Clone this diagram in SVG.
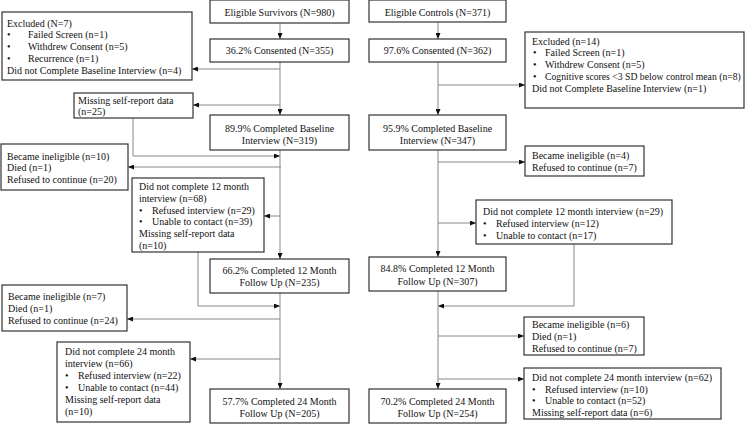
<svg xmlns="http://www.w3.org/2000/svg" width="754" height="424" viewBox="0 0 754 424">
<defs>
<marker id="ah" viewBox="0 0 6 5" refX="6" refY="2.5" markerWidth="6" markerHeight="5" markerUnits="userSpaceOnUse" orient="auto">
<path d="M0,0 L6,2.5 L0,5 Z" fill="#111"/>
</marker>
<style>
rect{fill:#fff;stroke:#333;stroke-width:1.2}
text{font-family:"Liberation Serif","Times New Roman",serif;font-size:10px;fill:#111}
.c{text-anchor:middle}
#connectors path{fill:none;stroke:#888;stroke-width:1}
.a{marker-end:url(#ah)}
</style>
</defs>
<rect x="0" y="0" width="754" height="424" style="fill:#fff;stroke:none"/>

<g id="connectors">
<path class="a" d="M280,23 V39"/>
<path class="a" d="M280,62 V115"/>
<path class="a" d="M280,69 H192"/>
<path class="a" d="M280,105 H193"/>
<path class="a" d="M133,118 V156 H280"/>
<path class="a" d="M280,150 V259"/>
<path class="a" d="M281,167 H128"/>
<path class="a" d="M280,216 H264"/>
<path class="a" d="M198,252 V306 H280"/>
<path class="a" d="M280,293 V389"/>
<path class="a" d="M280,319 H127"/>
<path class="a" d="M280,359 H190"/>

<path class="a" d="M438,22 V39"/>
<path class="a" d="M438,62 V115"/>
<path class="a" d="M438,85 H525"/>
<path class="a" d="M438,150 V257"/>
<path class="a" d="M438,162 H525"/>
<path class="a" d="M438,223 H476"/>
<path class="a" d="M574,244 V306 H438"/>
<path class="a" d="M438,291 V389"/>
<path class="a" d="M438,336 H524"/>
<path class="a" d="M438,379 H524"/>
</g>

<g id="eligible-survivors">
<rect x="210" y="0" width="139" height="23"/>
<text class="c" x="279.5" y="15.5">Eligible Survivors (N=980)</text>
</g>
<g id="survivors-consented">
<rect x="210" y="39" width="139" height="23"/>
<text class="c" x="279.5" y="54">36.2% Consented (N=355)</text>
</g>
<g id="survivors-excluded">
<rect x="2" y="12" width="190" height="68"/>
<text x="7" y="26.5">Excluded (N=7)</text>
<text x="7" y="38.25">•</text><text x="28" y="38.25">Failed Screen (n=1)</text>
<text x="7" y="50">•</text><text x="28" y="50">Withdrew Consent (n=5)</text>
<text x="7" y="61.75">•</text><text x="28" y="61.75">Recurrence (n=1)</text>
<text x="7" y="73.5">Did not Complete Baseline Interview (n=4)</text>
</g>
<g id="survivors-missing-baseline">
<rect x="74" y="93" width="119" height="25"/>
<text x="78" y="103.5">Missing self-report data</text>
<text x="78" y="115">(n=25)</text>
</g>
<g id="survivors-baseline">
<rect x="210" y="115" width="139" height="35"/>
<text class="c" x="279.5" y="131.5">89.9% Completed Baseline</text>
<text class="c" x="279.5" y="143.5">Interview (N=319)</text>
</g>
<g id="survivors-ineligible-12">
<rect x="1" y="144" width="127" height="46"/>
<text x="7" y="159.5">Became ineligible (n=10)</text>
<text x="7" y="171">Died (n=1)</text>
<text x="7" y="183">Refused to continue (n=20)</text>
</g>
<g id="survivors-not-complete-12">
<rect x="132" y="178" width="132" height="74"/>
<text x="139" y="190">Did not complete 12 month</text>
<text x="139" y="201.7">interview (n=68)</text>
<text x="139" y="213.5">•</text><text x="152" y="213.5">Refused interview (n=29)</text>
<text x="139" y="225">•</text><text x="152" y="225">Unable to contact (n=39)</text>
<text x="139" y="236.7">Missing self-report data</text>
<text x="139" y="248.5">(n=10)</text>
</g>
<g id="survivors-12-month">
<rect x="210" y="259" width="139" height="34"/>
<text class="c" x="279.5" y="273.5">66.2% Completed 12 Month</text>
<text class="c" x="279.5" y="286">Follow Up (N=235)</text>
</g>
<g id="survivors-ineligible-24">
<rect x="2" y="285" width="125" height="46"/>
<text x="8" y="300">Became ineligible (n=7)</text>
<text x="8" y="312">Died (n=1)</text>
<text x="8" y="324">Refused to continue (n=24)</text>
</g>
<g id="survivors-not-complete-24">
<rect x="57" y="342" width="133" height="80"/>
<text x="65" y="355">Did not complete 24 month</text>
<text x="65" y="366.7">interview (n=66)</text>
<text x="65" y="379">•</text><text x="78" y="379">Refused interview (n=22)</text>
<text x="65" y="391">•</text><text x="78" y="391">Unable to contact (n=44)</text>
<text x="65" y="403">Missing self-report data</text>
<text x="65" y="415">(n=10)</text>
</g>
<g id="survivors-24-month">
<rect x="210" y="389" width="139" height="34"/>
<text class="c" x="279.5" y="404.5">57.7% Completed 24 Month</text>
<text class="c" x="279.5" y="416.5">Follow Up (N=205)</text>
</g>

<g id="eligible-controls">
<rect x="369" y="0" width="137" height="22"/>
<text class="c" x="437.5" y="15.5">Eligible Controls (N=371)</text>
</g>
<g id="controls-consented">
<rect x="369" y="39" width="137" height="23"/>
<text class="c" x="437.5" y="54">97.6% Consented (N=362)</text>
</g>
<g id="controls-excluded">
<rect x="525" y="32" width="219" height="76"/>
<text x="532" y="44.5">Excluded (n=14)</text>
<text x="533" y="56.25">•</text><text x="545" y="56.25">Failed Screen (n=1)</text>
<text x="533" y="68">•</text><text x="545" y="68">Withdrew Consent (n=5)</text>
<text x="533" y="79.75">•</text><text x="545" y="79.75" style="font-size:9.7px">Cognitive scores &lt;3 SD below control mean (n=8)</text>
<text x="532" y="91.5">Did not Complete Baseline Interview (n=1)</text>
</g>
<g id="controls-baseline">
<rect x="369" y="115" width="137" height="35"/>
<text class="c" x="437.5" y="131.5">95.9% Completed Baseline</text>
<text class="c" x="437.5" y="143.5">Interview (N=347)</text>
</g>
<g id="controls-ineligible-12">
<rect x="525" y="146" width="119" height="30"/>
<text x="532" y="159">Became ineligible (n=4)</text>
<text x="532" y="171">Refused to continue (n=7)</text>
</g>
<g id="controls-not-complete-12">
<rect x="476" y="200" width="196" height="44"/>
<text x="483" y="215">Did not complete 12 month interview (n=29)</text>
<text x="483" y="227">•</text><text x="496" y="227">Refused interview (n=12)</text>
<text x="483" y="238.5">•</text><text x="496" y="238.5">Unable to contact (n=17)</text>
</g>
<g id="controls-12-month">
<rect x="369" y="257" width="137" height="34"/>
<text class="c" x="437.5" y="272">84.8% Completed 12 Month</text>
<text class="c" x="437.5" y="284.5">Follow Up (N=307)</text>
</g>
<g id="controls-ineligible-24">
<rect x="524" y="317" width="120" height="38"/>
<text x="532" y="327.5">Became ineligible (n=6)</text>
<text x="532" y="339.5">Died (n=1)</text>
<text x="532" y="351.5">Refused to continue (n=7)</text>
</g>
<g id="controls-not-complete-24">
<rect x="524" y="368" width="197" height="51"/>
<text x="532" y="381">Did not complete 24 month interview (n=62)</text>
<text x="532" y="392.5">•</text><text x="545" y="392.5">Refused interview (n=10)</text>
<text x="532" y="404">•</text><text x="545" y="404">Unable to contact (n=52)</text>
<text x="532" y="415.5">Missing self-report data (n=6)</text>
</g>
<g id="controls-24-month">
<rect x="369" y="389" width="137" height="34"/>
<text class="c" x="437.5" y="404.5">70.2% Completed 24 Month</text>
<text class="c" x="437.5" y="416.5">Follow Up (N=254)</text>
</g>
</svg>
